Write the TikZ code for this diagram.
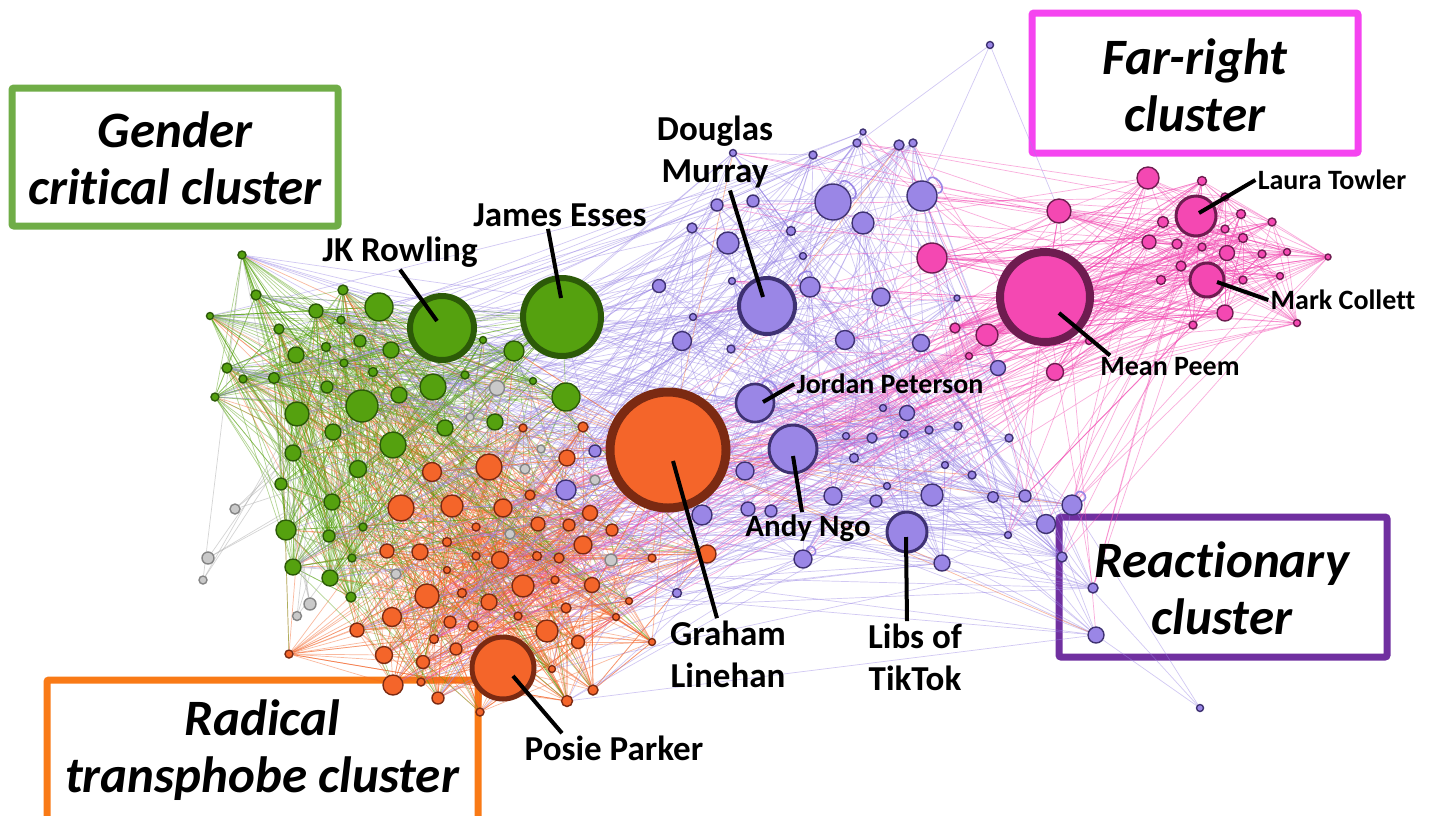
\documentclass[tikz,border=0pt]{standalone}
\usepackage{fontspec}
\setmainfont{Carlito}[Ligatures=NoCommon]
\usepackage{xcolor}
\usepackage{tikz}
\usetikzlibrary{calc}
\definecolor{grn}{HTML}{55A10F}
\definecolor{grnbd}{HTML}{2C5A08}
\definecolor{org}{HTML}{F4652A}
\definecolor{orgbd}{HTML}{7B2A12}
\definecolor{pur}{HTML}{9A86E6}
\definecolor{purbd}{HTML}{3E3172}
\definecolor{pnk}{HTML}{F448B2}
\definecolor{pnkbd}{HTML}{6E1C50}
\definecolor{gry}{HTML}{C9C9C9}
\definecolor{grybd}{HTML}{858585}
\definecolor{boxgrn}{HTML}{70AD47}
\definecolor{boxpnk}{HTML}{F544F0}
\definecolor{boxpur}{HTML}{7030A0}
\definecolor{boxorg}{HTML}{F97A16}
\pgfdeclarelayer{edges}
\pgfsetlayers{edges,main}
\tikzset{
  vtx/.style={circle, inner sep=0pt, line width=0.7pt},
  gnode/.style={vtx, fill=grn, draw=grnbd},
  onode/.style={vtx, fill=org, draw=orgbd},
  pnode/.style={vtx, fill=pur, draw=purbd},
  knode/.style={vtx, fill=pnk, draw=pnkbd},
  ynode/.style={vtx, fill=gry, draw=grybd},
  hub/.style={line width=#1},
  hub/.default=2pt,
  gedge/.style={draw=grn, line width=0.35pt, draw opacity=0.45},
  oedge/.style={draw=org, line width=0.35pt, draw opacity=0.45},
  pedge/.style={draw=pur, line width=0.35pt, draw opacity=0.45},
  kedge/.style={draw=pnk, line width=0.35pt, draw opacity=0.45},
  yedge/.style={draw=gry!85!black, line width=0.35pt, draw opacity=0.5},
  loopedge/.style={draw=pur, line width=0.8pt},
  lab/.style={font=\bfseries\fontsize{17.5}{21}\selectfont, align=center, inner sep=1pt},
  labm/.style={lab, font=\bfseries\fontsize{15.5}{19}\selectfont},
  labs/.style={lab, font=\bfseries\fontsize{14}{17}\selectfont},
  pointer/.style={draw=black, line width=2pt},
  clusterbox/.style={line width=3.5pt, fill=white, rounded corners=1pt},
  boxtext/.style={font=\bfseries\itshape\fontsize{25.5}{28.5}\selectfont, align=center}
}

\begin{document}
\begin{tikzpicture}[x=0.5pt, y=-0.5pt]
  \useasboundingbox (0,0) rectangle (1434,815);
  \pgfmathsetseed{11}

  % Gender critical cluster (green)
  \node[gnode, hub=3pt, minimum size=32pt] (rowling) at (442,328) {};
  \node[gnode, hub=3pt, minimum size=39pt] (esses) at (562,317) {};
  \foreach \x/\y/\r [count=\i] in {242/255/4, 256/295/5, 210/316/3.5, 343/290/5,
      316/311/7, 341/320/4, 379/307/14, 279/329/5, 360/341/6, 391/350/8, 483/340/3.5,
      514/351/10, 296/355/8, 326/347/4.5, 344/363/4, 227/368/5, 243/379/4, 274/378/5.5,
      373/372/4.5, 433/387/13, 465/375/4, 533/381/3.5, 566/397/14, 327/387/6, 215/397/4,
      362/406/16, 399/395/8, 297/414/12, 333/432/8, 393/445/13, 445/428/8, 495/422/8,
      293/453/8, 358/469/8.5, 281/484/6, 332/502/8, 286/530/10, 329/536/6, 363/527/4,
      293/567/8, 330/578/8, 352/558/4, 351/597/5} {
    \node[gnode, minimum size=\r pt] (g\i) at (\x,\y) {};
    \xdef\ngreen{\i}
  }

  % Radical transphobe cluster (orange)
  \node[onode, hub=4.5pt, minimum size=58pt] (linehan) at (668,450) {};
  \node[onode, hub=2.5pt, minimum size=31pt] (parker) at (503,668) {};
  \foreach \x/\y/\r [count=\i] in {523/428/4, 583/427/5, 432/472/9.5, 489/467/13,
      567/458/8, 401/508/13, 452/506/11, 503/508/9, 530/495/5, 590/513/7.5, 538/524/7,
      569/525/6, 476/527/4, 612/530/6, 583/545/9, 387/551/7, 420/552/8, 447/542/4.5,
      476/556/4, 500/560/8.5, 537/556/4.5, 559/558/5, 447/570/3.5, 523/586/11, 555/580/4,
      592/585/7.5, 427/596/12, 462/593/4.5, 489/602/8, 392/617/9.5, 450/622/6, 473/626/5,
      518/616/4, 566/608/5, 547/631/11, 616/617/3.5, 629/601/3.5, 434/639/4.5, 456/649/6,
      384/655/8.5, 423/662/6.5, 578/642/6.5, 552/669/3.5, 393/685/10, 438/698/6,
      480/712/4, 567/701/5.5, 593/690/5, 421/682/4, 357/630/7, 289/654/4, 707/554/9,
      652/558/4, 652/642/3.5} {
    \node[onode, minimum size=\r pt] (o\i) at (\x,\y) {};
    \xdef\norange{\i}
  }

  % unassigned (grey)
  \foreach \x/\y/\r [count=\i] in {497/388/7.5, 470/417/4, 541/449/4, 525/469/5,
      595/480/5, 235/509/5, 208/558/6, 203/580/4, 310/604/6, 297/616/4.5, 396/574/5,
      510/534/5, 611/560/6} {
    \node[ynode, minimum size=\r pt] (y\i) at (\x,\y) {};
    \xdef\ngrey{\i}
  }

  % Reactionary cluster (purple)
  \node[pnode, hub=2pt, minimum size=28pt] (murray) at (767,306) {};
  \node[pnode, hub=1.3pt, minimum size=19pt] (peterson) at (755,403) {};
  \node[pnode, hub=1.5pt, minimum size=24pt] (ngo) at (793,449) {};
  \node[pnode, hub=1.5pt, minimum size=20pt] (tiktok) at (907,532) {};
  \node[pnode, minimum size=3.5pt] (ptop) at (990,45) {};
  \node[pnode, minimum size=3.5pt] (pbottom) at (1200,708) {};
  \foreach \x/\y/\r [count=\i] in {733/153/3.5, 813/155/4, 863/132/3, 857/143/4,
      899/145/5, 913/143/4, 717/205/6, 753/201/6, 833/202/18, 922/196/15, 863/223/11,
      692/228/5, 791/231/4.5, 728/243/11, 803/256/3.5, 659/286/6.5, 732/281/3.5,
      810/287/10, 881/297/9, 957/298/3, 693/317/3.5, 682/341/9.5, 731/349/4, 845/340/9.5,
      921/343/8.5, 998/368/7.5, 907/413/7.5, 883/408/3.5, 846/436/3.5, 872/438/5,
      904/434/4, 929/430/4, 958/426/4, 1009/438/4, 854/458/4.5, 887/486/3.5, 876/501/6,
      932/495/11, 945/465/3.5, 972/475/4, 993/497/5.5, 1025/496/6, 1072/505/10,
      1046/524/9.5, 1008/535/3.5, 942/563/8, 1062/557/5, 1093/588/5, 1096/635/8,
      677/593/4.5, 745/471/9, 702/515/10, 833/496/9, 748/509/7, 771/511/6, 803/559/9,
      566/490/10, 595/451/6} {
    \node[pnode, minimum size=\r pt] (p\i) at (\x,\y) {};
    \xdef\npurple{\i}
  }

  % Far-right cluster (pink)
  \node[knode, hub=4pt, minimum size=45pt] (peem) at (1045,297) {};
  \node[knode, hub=1.5pt, minimum size=20pt] (towler) at (1196,216) {};
  \node[knode, hub=1.5pt, minimum size=17pt] (collett) at (1207,280) {};
  \foreach \x/\y/\r [count=\i] in {932/258/15, 1059/211/12, 1148/178/11, 1202/181/4.5,
      1225/197/4, 1163/222/5.5, 1241/214/4.5, 1272/222/4, 1149/242/7, 1177/244/5,
      1202/247/4, 1225/229/4, 1243/238/4.5, 1227/253/7.5, 1262/254/4, 1287/252/3.5,
      1328/257/3, 1181/266/5, 1161/280/4.5, 1243/280/4, 1280/276/3.5, 1225/313/8,
      1193/325/4, 1297/323/3.5, 955/328/5, 987/335/11, 969/356/3.5, 1089/341/3.5,
      1055/372/8.5} {
    \node[knode, minimum size=\r pt] (k\i) at (\x,\y) {};
    \xdef\npink{\i}
  }

  \begin{pgfonlayer}{edges}
    \fill[white] (0,0) rectangle (1434,815);
    % cluster frames
    \draw[clusterbox, draw=boxgrn] (12,88) rectangle (338,226);
    \draw[clusterbox, draw=boxpnk] (1032,13) rectangle (1358,153);
    \draw[clusterbox, draw=boxpur] (1059,517) rectangle (1387,657);
    \draw[clusterbox, draw=boxorg] (47,680) rectangle (478,840);

    % links inside clusters
    \foreach \i in {1,...,\ngreen} {
      \foreach \k in {1,...,9} {
        \pgfmathrandominteger{\j}{1}{\ngreen}
        \ifnum\j=\i\else\draw[gedge] (g\i) -- (g\j);\fi
      }
    }
    \foreach \i in {1,...,\norange} {
      \foreach \k in {1,...,9} {
        \pgfmathrandominteger{\j}{1}{\norange}
        \ifnum\j=\i\else\draw[oedge] (o\i) -- (o\j);\fi
      }
    }
    \foreach \i in {1,...,\npurple} {
      \foreach \k in {1,...,4} {
        \pgfmathrandominteger{\j}{1}{\npurple}
        \ifnum\j=\i\else\draw[pedge] (p\i) -- (p\j);\fi
      }
    }
    \foreach \i in {1,...,\npink} {
      \foreach \k in {1,...,7} {
        \pgfmathrandominteger{\j}{1}{\npink}
        \ifnum\j=\i\else\draw[kedge] (k\i) -- (k\j);\fi
      }
    }

    % links between clusters
    \foreach \i in {1,...,\norange} {
      \foreach \k in {1,...,3} {
        \pgfmathrandominteger{\j}{1}{\ngreen}
        \draw[oedge] (o\i) -- (g\j);
      }
    }
    \foreach \i in {1,...,\ngreen} {
      \foreach \k in {1,...,3} {
        \pgfmathrandominteger{\j}{1}{\norange}
        \draw[gedge] (g\i) -- (o\j);
      }
    }
    \foreach \i in {1,...,\npurple} {
      \foreach \k in {1,...,2} {
        \pgfmathrandominteger{\j}{1}{\ngreen}
        \draw[pedge] (p\i) -- (g\j);
        \pgfmathrandominteger{\j}{1}{\norange}
        \draw[pedge] (p\i) -- (o\j);
      }
    }
    \foreach \i in {1,...,\npink} {
      \foreach \k in {1,...,3} {
        \pgfmathrandominteger{\j}{1}{\npurple}
        \draw[kedge] (k\i) -- (p\j);
      }
      \pgfmathrandominteger{\j}{1}{\norange}
      \draw[kedge] (k\i) -- (o\j);
    }
    \foreach \i in {1,...,\ngrey} {
      \foreach \k in {1,...,3} {
        \pgfmathrandominteger{\j}{1}{\ngreen}
        \draw[yedge] (y\i) -- (g\j);
      }
    }

    % links of the named accounts
    \foreach \k in {1,...,25} {
      \pgfmathrandominteger{\j}{1}{\ngreen}
      \draw[gedge] (rowling) -- (g\j);
      \pgfmathrandominteger{\j}{1}{\ngreen}
      \draw[gedge] (esses) -- (g\j);
      \pgfmathrandominteger{\j}{1}{\norange}
      \draw[oedge] (linehan) -- (o\j);
      \pgfmathrandominteger{\j}{1}{\norange}
      \draw[oedge] (parker) -- (o\j);
      \pgfmathrandominteger{\j}{1}{\npink}
      \draw[kedge] (peem) -- (k\j);
    }
    \foreach \k in {1,...,10} {
      \pgfmathrandominteger{\j}{1}{\npurple}
      \draw[pedge] (esses) -- (p\j);
      \pgfmathrandominteger{\j}{1}{\npurple}
      \draw[pedge] (murray) -- (p\j);
      \pgfmathrandominteger{\j}{1}{\ngreen}
      \draw[pedge] (murray) -- (g\j);
      \pgfmathrandominteger{\j}{1}{\npurple}
      \draw[pedge] (peterson) -- (p\j);
      \pgfmathrandominteger{\j}{1}{\npurple}
      \draw[pedge] (ngo) -- (p\j);
      \pgfmathrandominteger{\j}{1}{\npurple}
      \draw[pedge] (tiktok) -- (p\j);
      \pgfmathrandominteger{\j}{1}{\npurple}
      \draw[kedge] (peem) -- (p\j);
      \pgfmathrandominteger{\j}{1}{\norange}
      \draw[kedge] (peem) -- (o\j);
      \pgfmathrandominteger{\j}{1}{\ngreen}
      \draw[oedge] (linehan) -- (g\j);
      \pgfmathrandominteger{\j}{1}{\npurple}
      \draw[oedge] (linehan) -- (p\j);
      \pgfmathrandominteger{\j}{1}{\npink}
      \draw[kedge] (towler) -- (k\j);
      \pgfmathrandominteger{\j}{1}{\npink}
      \draw[kedge] (collett) -- (k\j);
    }
    \draw[pedge] (ptop) -- (p10);
    \draw[pedge] (ptop) -- (p4);
    \draw[pedge] (ptop) -- (k2);
    \draw[pedge] (pbottom) -- (p49);
    \draw[pedge] (pbottom) -- (p47);
    \draw[pedge] (pbottom) -- (p43);
    \draw[kedge] (p49) -- (k2);
    \draw[kedge] (p48) -- (peem);
  \end{pgfonlayer}

  % self links
  \draw[loopedge] (p9) to[out=70, in=10, min distance=7pt] (p9);
  \draw[loopedge] (p10) to[out=70, in=10, min distance=7pt] (p10);
  \draw[loopedge] (p18) to[out=150, in=80, min distance=6pt] (p18);
  \draw[loopedge] (peterson) to[out=70, in=20, min distance=6pt] (peterson);
  \draw[loopedge] (p43) to[out=70, in=20, min distance=5pt] (p43);
  \draw[loopedge] (p56) to[out=70, in=20, min distance=5pt] (p56);

  % labels of the named accounts
  \node[lab] (lblrowling) at (400,252) {JK Rowling};
  \node[lab] (lblesses) at (560,215) {James Esses};
  \node[lab] (lblmurray) at (715,152) {Douglas\\Murray};
  \node[labs] (lblpeterson) at (890,384) {Jordan Peterson};
  \node[labm] (lblngo) at (808,528) {Andy Ngo};
  \node[lab] (lbllinehan) at (728,654) {Graham\\Linehan};
  \node[lab] (lbltiktok) at (915,657) {Libs of\\TikTok};
  \node[lab] (lblparker) at (614,748) {Posie Parker};
  \node[labs] (lblpeem) at (1170,367) {Mean Peem};
  \node[labs] (lbltowler) at (1332,180) {Laura Towler};
  \node[labs] (lblcollett) at (1343,300) {Mark Collett};

  \draw[pointer] (lblrowling.south) -- ($(rowling)+(-5,-7)$);
  \draw[pointer] ($(lblesses.south)+(-12,0)$) -- ($(esses)+(-1,-19)$);
  \draw[pointer] ($(lblmurray.south)+(15,0)$) -- ($(murray)+(-4,-9)$);
  \draw[pointer] (lblpeterson.west) -- ($(peterson)+(8,-1)$);
  \draw[pointer] ($(lblngo.north)+(-6,0)$) -- ($(ngo)+(0,7)$);
  \draw[pointer] ($(lbllinehan.north)+(-11,0)$) -- ($(linehan)+(5,11)$);
  \draw[pointer] ($(lbltiktok.north)+(-8,0)$) -- ($(tiktok)+(-1,5)$);
  \draw[pointer] ($(lblparker.north)+(-52,0)$) -- ($(parker)+(10,8)$);
  \draw[pointer] ($(lblpeem.north west)+(12,0)$) -- ($(peem)+(14,16)$);
  \draw[pointer] (lbltowler.west) -- ($(towler)+(3,-3)$);
  \draw[pointer] (lblcollett.west) -- ($(collett)+(10,2)$);

  % cluster titles
  \node[boxtext] (tgreen) at (175,158) {Gender\\critical cluster};
  \node[boxtext] (tpink) at (1195,85) {Far-right\\cluster};
  \node[boxtext] (tpurple) at (1222,588) {Reactionary\\cluster};
  \node[boxtext] (torange) at (262,750) {Radical\\transphobe cluster};
\end{tikzpicture}
\end{document}
